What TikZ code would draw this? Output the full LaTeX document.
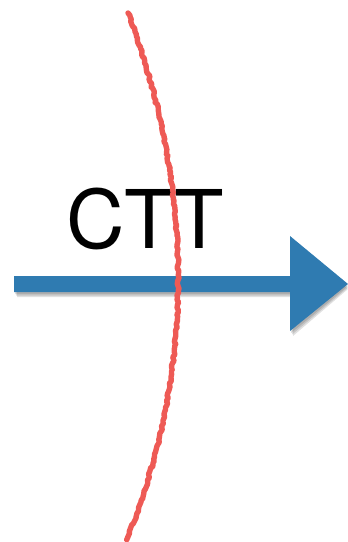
\documentclass[tikz,border=0pt]{standalone}
\usepackage{fontspec}
\setmainfont{TeX Gyre Heros}
\usetikzlibrary{decorations.pathmorphing}
\definecolor{arrowblue}{HTML}{2F7BB1}
\definecolor{cutred}{HTML}{EE5A55}
\tikzset{
  bigarrow/.style={fill=arrowblue},
  arrowshadow/.style={fill=black, opacity=0.12},
  cutline/.style={draw=cutred, line width=5.4pt, line cap=round, line join=round,
    decorate, decoration={random steps, segment length=2.4pt, amplitude=1pt}},
  label/.style={inner sep=0pt, font=\fontsize{81}{81}\selectfont}
}
\begin{document}
\begin{tikzpicture}[x=1pt,y=-1pt]
\useasboundingbox (0,0) rectangle (348,542);
% shadow
\foreach \d in {2,3.5,5}{
  \path[arrowshadow] (14+\d*0.6,276+\d) -- (290+\d*0.6,276+\d) -- (290+\d*0.6,236+\d) -- (348,284+\d) -- (290+\d*0.6,331+\d) -- (290+\d*0.6,292+\d) -- (14+\d*0.6,292+\d) -- cycle;
}
% arrow
\path[bigarrow] (14,276) -- (290,276) -- (290,236) -- (348,284) -- (290,331) -- (290,292) -- (14,292) -- cycle;
% label
\node[label] (ctt) at (145,219) {CTT};
% cut line
\coordinate (top) at (128,13);
\coordinate (bot) at (127,539);
\draw[cutline] (top) .. controls (195,190) and (195,370) .. (bot);
\end{tikzpicture}
\end{document}
